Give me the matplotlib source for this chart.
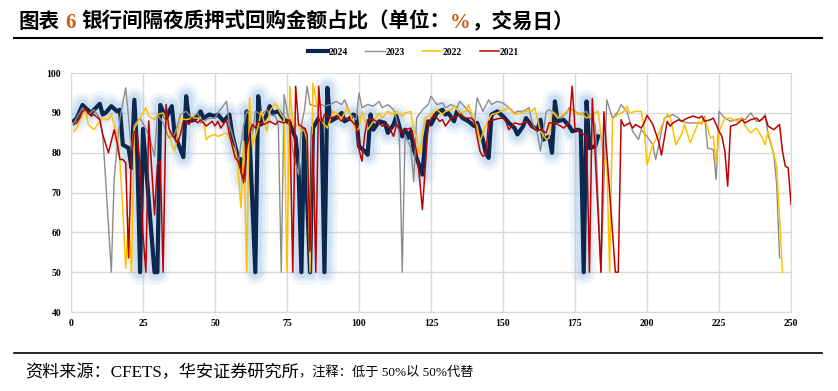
import matplotlib
matplotlib.use("Agg")
import matplotlib.pyplot as plt

FAM = ["Liberation Serif", "Noto Sans CJK SC"]

# 交易日序号 / 隔夜质押式回购金额占比(%)，按图读取的折线拐点
day_2024 = [1, 2, 4, 5, 7, 8, 10, 11, 12, 14, 16, 17, 18, 20, 21, 22, 23, 24, 25, 29,
            30, 31, 33, 35, 36, 38, 39, 40, 41, 43, 45, 46, 48, 50, 51, 53, 55, 56, 58, 59,
            60, 61, 62, 64, 65, 66, 68, 69, 70, 72, 74, 76, 77, 78, 79, 80, 81, 83, 84, 86,
            87, 88, 89, 90, 92, 94, 95, 97, 98, 99, 100, 102, 103, 104, 105, 107, 109, 110, 112, 113,
            115, 116, 117, 118, 119, 120, 122, 123, 124, 125, 127, 129, 130, 131, 133, 134, 136, 138, 140, 141,
            143, 144, 145, 146, 148, 150, 152, 154, 155, 157, 158, 160, 162, 163, 164, 166, 167, 168, 169, 171,
            173, 174, 176, 177, 178, 179, 180, 182, 183]
val_2024 = [88, 88.7, 92, 91.3, 90, 90.8, 92.3, 89.6, 90, 91.7, 90.4, 90.8, 82, 81.2, 76.2, 93.3, 80, 50, 86, 50,
            50, 92, 88.7, 91.7, 84.6, 80.8, 78.9, 94.2, 87.9, 88.3, 90.4, 88.7, 89.6, 89.2, 89.6, 87.9, 89.6, 84.6, 78.7, 78.3,
            72.8, 90.4, 84, 50, 94.2, 87.1, 89.6, 91.7, 90, 90.4, 88.3, 87.5, 85.4, 83.7, 76, 50, 85.8, 50, 86.2, 88.7,
            88, 50, 96.3, 87.9, 88.7, 90, 87.9, 88.7, 89.6, 89.2, 81.6, 80.4, 79.5, 89.6, 85.8, 87.9, 87.5, 85, 87.1, 89.2,
            84.1, 85.8, 83.7, 85.4, 80.8, 78.7, 74.5, 83.7, 87.9, 87.1, 90, 90.8, 89.6, 90, 87.9, 90.4, 88.7, 87.9, 86.7, 87.5,
            83.3, 80, 78.7, 89.6, 90.4, 89.2, 87.5, 86.2, 84.6, 86.7, 88.7, 86.7, 85.8, 88.3, 83.3, 84.1, 80, 92.9, 87.9, 88.3,
            86.7, 85.4, 85.8, 85.5, 50, 92.9, 81.2, 81.6, 84.1]

day_2023 = [1, 3, 4, 6, 8, 10, 11, 12, 14, 15, 17, 19, 20, 21, 22, 24, 27, 29, 30, 32,
            34, 36, 38, 40, 42, 44, 45, 48, 50, 51, 54, 55, 57, 58, 60, 61, 62, 63, 64, 66,
            68, 69, 71, 72, 73, 74, 76, 77, 79, 80, 81, 82, 83, 85, 87, 88, 90, 92, 94, 95,
            97, 99, 100, 101, 103, 105, 107, 108, 110, 112, 113, 114, 115, 116, 118, 119, 120, 122, 124, 125,
            127, 129, 130, 132, 134, 135, 137, 139, 140, 141, 143, 145, 146, 148, 150, 152, 154, 155, 157, 159,
            160, 162, 163, 165, 166, 168, 170, 172, 173, 175, 177, 179, 180, 182, 184, 186, 188, 190, 191, 193,
            195, 197, 198, 200, 202, 203, 205, 206, 209, 211, 212, 214, 216, 219, 220, 221, 223, 224, 225, 227,
            229, 231, 233, 234, 236, 238, 240, 241, 242, 244, 245, 246]
val_2023 = [87.5, 90, 91.3, 89.6, 90.8, 88.7, 84.6, 73.7, 50, 73.7, 88.7, 96.3, 88.7, 80.4, 87, 88.7, 84.6, 79.1, 89.6, 87.5,
            83.7, 84.6, 89.6, 90.4, 88.7, 90, 87.5, 88.7, 88.7, 90, 92.9, 87.1, 82, 77, 87.1, 90.4, 89.6, 84.6, 90.4, 89.6,
            90.8, 89.6, 89.2, 86.7, 50, 94.6, 86.7, 80.4, 74.5, 87.1, 90.4, 96.7, 92.1, 91.7, 92.1, 91.7, 92.1, 92.9, 92.1, 93.3,
            89.6, 88.3, 95, 91.3, 92.1, 91.7, 92.9, 91.3, 92.1, 90.8, 88.7, 84.6, 50, 84.6, 81.2, 72.8, 88.7, 90.8, 92.1, 94.2,
            92.1, 92.5, 91.3, 92.1, 91.3, 92.9, 91.3, 89.6, 87.1, 93.8, 90.4, 93.3, 92.1, 92.9, 92.5, 91.3, 90, 90.4, 90.4, 91.3,
            87.9, 84.6, 80.4, 90.4, 90.8, 90, 88.7, 90, 91.3, 90.4, 89.6, 90.4, 88.7, 87.1, 50, 93.3, 88.7, 90.4, 92.1, 90.4,
            85.4, 83.3, 85.8, 84.1, 82, 78.3, 85.4, 88.7, 89.6, 88.7, 87.9, 87.5, 87.5, 87.5, 89.2, 81.2, 80.8, 73.3, 90.4, 88.7,
            87.9, 88.3, 88.7, 88.3, 90, 87.9, 88.3, 89.6, 84.6, 79.5, 72, 53.6]

day_2022 = [1, 2, 4, 5, 6, 8, 10, 11, 13, 14, 16, 17, 18, 19, 20, 21, 22, 24, 26, 27,
            29, 30, 32, 34, 35, 36, 38, 40, 42, 44, 46, 47, 48, 50, 51, 54, 55, 57, 58, 59,
            60, 61, 62, 63, 65, 66, 68, 69, 71, 73, 74, 75, 76, 77, 79, 80, 81, 82, 83, 84,
            86, 87, 89, 91, 92, 94, 96, 98, 99, 100, 101, 103, 105, 107, 108, 110, 112, 113, 115, 116,
            118, 119, 120, 121, 122, 123, 125, 127, 129, 130, 132, 133, 135, 137, 138, 140, 141, 142, 144, 146,
            148, 150, 152, 154, 156, 158, 160, 161, 163, 165, 166, 167, 169, 171, 172, 174, 176, 177, 179, 181,
            183, 184, 185, 186, 187, 188, 190, 192, 193, 194, 196, 198, 199, 200, 201, 202, 204, 205, 207, 208,
            210, 212, 213, 215, 218, 219, 220, 222, 223, 224, 225, 227, 229, 231, 233, 234, 236, 238, 240, 241,
            242, 244, 245, 246, 247]
val_2022 = [85.4, 86.2, 89.6, 90.8, 87.1, 85.8, 87.9, 88.7, 88.3, 89.6, 84.6, 77.9, 65.3, 51, 63.6, 50, 86.2, 88.7, 91.3, 89.2,
            88.3, 89.6, 90, 86.2, 82, 80.4, 88.7, 88.3, 88.7, 88.7, 87.9, 83.3, 84.1, 84.6, 84.1, 85, 83.7, 80.4, 76.2, 66.2,
            82.9, 50, 93.8, 81.6, 86.7, 90.4, 85.4, 90.4, 92.5, 89.6, 88.7, 50, 96.7, 87.1, 86.7, 85.4, 85.8, 82.9, 50, 97.5,
            89.6, 87.9, 86.2, 90.4, 90, 88.7, 91.3, 87.5, 85.4, 86.2, 90.4, 85.8, 87.9, 90, 88.7, 90.4, 89.6, 90.4, 89.2, 90,
            90.4, 85.8, 83.7, 79.5, 84.6, 88.7, 89.6, 90.8, 89.6, 90.4, 90.8, 91.7, 90, 90.4, 92.1, 87.9, 86.7, 82.9, 86.7, 89.6,
            90, 90.6, 91.3, 89.6, 90, 90.4, 90.4, 91.3, 85.4, 83.3, 83.7, 90.4, 88.7, 89.6, 90.4, 90.8, 89.6, 90, 88.7, 89.6,
            90.4, 84.6, 77.5, 78.7, 50, 88.5, 89.6, 90.4, 91.7, 90, 90.4, 90.4, 86.2, 77, 79.5, 82, 84.6, 86.7, 89.6, 89.2,
            82, 84.6, 87.1, 82.5, 87.9, 87.1, 88.7, 83.7, 84.1, 77.5, 85.4, 88.7, 88.7, 87.9, 88.7, 86.7, 85, 86.2, 83.7, 82,
            85.4, 79.5, 76.6, 63.6, 50]

day_2021 = [1, 2, 3, 4, 5, 7, 8, 10, 11, 13, 14, 15, 16, 17, 18, 19, 20, 21, 22, 23,
            24, 25, 26, 27, 29, 30, 31, 32, 33, 34, 35, 37, 38, 39, 41, 42, 44, 45, 47, 49,
            50, 51, 52, 54, 55, 57, 58, 60, 61, 62, 63, 64, 65, 67, 69, 71, 72, 74, 76, 77,
            78, 79, 81, 82, 83, 84, 85, 86, 87, 88, 90, 92, 94, 95, 97, 99, 100, 101, 102, 103,
            105, 107, 108, 110, 112, 113, 115, 116, 118, 120, 121, 122, 123, 124, 126, 128, 129, 130, 132, 134,
            135, 137, 139, 140, 142, 143, 144, 145, 147, 149, 150, 151, 152, 154, 156, 158, 159, 161, 163, 165,
            166, 168, 170, 171, 173, 174, 175, 177, 178, 179, 180, 181, 184, 185, 189, 190, 191, 192, 194, 195,
            196, 198, 199, 200, 202, 203, 204, 205, 207, 208, 209, 211, 212, 214, 216, 218, 219, 220, 222, 223,
            225, 226, 227, 228, 229, 231, 233, 234, 236, 238, 239, 241, 242, 244, 246, 247, 248, 249, 250]
val_2021 = [87.1, 87.5, 88.7, 90.4, 90.8, 89.2, 89.6, 88.3, 84.6, 80, 82.9, 85.8, 82.5, 78.3, 78.3, 77.5, 53.6, 80, 85.4, 84.6,
            76.2, 59.5, 50, 88, 64.4, 77, 77.9, 50, 92.1, 86.2, 84.6, 82.5, 84.6, 87.9, 87.1, 88.7, 87.5, 88.3, 86.7, 87.9,
            86.7, 87.9, 86.2, 88.3, 84.6, 78.7, 77.9, 72.8, 81.2, 84.6, 87.1, 86.2, 87.9, 87.1, 87.9, 87.1, 87.9, 87.5, 88.3, 50,
            96.7, 87.1, 86.2, 84.6, 55.3, 84.6, 50, 96.7, 87.5, 89.6, 88.7, 89.2, 87.9, 88.7, 88.3, 86.7, 80.8, 77.9, 84.6, 88.3,
            88.3, 87.5, 86.7, 87.1, 84.1, 87.1, 85, 85.8, 86.2, 80.4, 73.7, 65.7, 76.2, 87.5, 89.6, 87.9, 88.3, 86.7, 88.7, 89.2,
            89.6, 88.7, 88.7, 87.9, 80.4, 79.1, 79.5, 87.9, 88.3, 88.7, 88.7, 87.9, 85.8, 87.5, 87.1, 87.9, 87.5, 85.8, 85.8, 85,
            87.5, 87.5, 86.7, 86.2, 87.5, 96.7, 85.8, 85, 84.6, 84.1, 50, 93.6, 50, 90.3, 50, 50, 88.3, 86.7, 87.5, 86.2,
            87.1, 86.2, 87.5, 89.4, 87.1, 85, 82.9, 79.4, 87.9, 86.7, 87.5, 88.3, 87.9, 88.7, 89.2, 88.7, 89.2, 87.9, 88.3, 88.7,
            85.4, 84.1, 80.4, 71.6, 86.7, 87.1, 88.3, 87.5, 88.3, 88.7, 87.9, 89.2, 86.7, 85.8, 87.1, 80.4, 76.6, 76.2, 67]

x_ticks = [0, 25, 50, 75, 100, 125, 150, 175, 200, 225, 250]
y_ticks = [40, 50, 60, 70, 80, 90, 100]

fig = plt.figure(figsize=(8.38, 3.91), dpi=100)
ax = fig.add_axes([0.0847, 0.202, 0.8593, 0.611])

# 2024 的浅蓝光晕
for lw, a in [(18, 0.14), (13, 0.2), (9, 0.28)]:
    ax.plot(day_2024, val_2024, color="#9dc3e6", lw=lw, alpha=a,
            solid_joinstyle="round", solid_capstyle="round", zorder=1)
ax.plot(day_2024, val_2024, color="#0c2850", lw=3.0, label="2024",
        solid_joinstyle="round", zorder=2)
ax.plot(day_2023, val_2023, color="#8c8c8c", lw=1.0, label="2023", zorder=3)
ax.plot(day_2022, val_2022, color="#ffc000", lw=1.1, label="2022", zorder=4)
ax.plot(day_2021, val_2021, color="#c00000", lw=1.1, label="2021", zorder=5)

ax.set_xlim(0, 250)
ax.set_ylim(40, 100)
ax.set_xticks(x_ticks)
ax.set_yticks(y_ticks)
ax.grid(True, color="#d9d9d9", lw=1)
ax.set_axisbelow(True)
for s in ax.spines.values():
    s.set_color("#d9d9d9")
ax.tick_params(length=0, pad=7, labelsize=7)
ax.tick_params(axis="x", pad=5)
for lab in ax.get_xticklabels() + ax.get_yticklabels():
    lab.set_family(FAM)
    lab.set_weight("bold")

leg = ax.legend(loc="center", bbox_to_anchor=(0.476, 1.087), ncol=4, frameon=False,
                prop={"family": FAM, "weight": "bold", "size": 7},
                handlelength=2.0, handletextpad=0.1, columnspacing=1.8)

# 标题与脚注
r = fig.canvas.get_renderer()
W = fig.bbox.width


def put_pieces(x_px, y_px, pieces, weight):
    x = x_px
    for s, color, gap, size in pieces:
        x += gap
        t = fig.text(x / W, 1 - y_px / fig.bbox.height, s, fontsize=size, color=color,
                     family=FAM, weight=weight, va="baseline", ha="left")
        x += t.get_window_extent(renderer=r).width


put_pieces(18, 28, [("图表", "black", 0, 14.8), ("6", "#c55a11", 6, 14.8),
                    ("银行间隔夜质押式回购金额占比（单位：", "black", 6, 14.8),
                    ("%", "#c55a11", 0, 14.8), ("，交易日）", "black", 1, 14.8)], "bold")
put_pieces(25, 377, [("资料来源：CFETS，华安证券研究所", "black", 0, 12.3),
                     ("，注释：低于 50%以 50%代替", "black", 0, 9.5)], "normal")

fig.add_artist(plt.Line2D([14 / W, 822 / W], [1 - 38 / 391, 1 - 38 / 391], color="black", lw=1.5))
fig.add_artist(plt.Line2D([14 / W, 822 / W], [1 - 353 / 391, 1 - 353 / 391], color="black", lw=1.2))

fig.savefig("out.png", dpi=100)
